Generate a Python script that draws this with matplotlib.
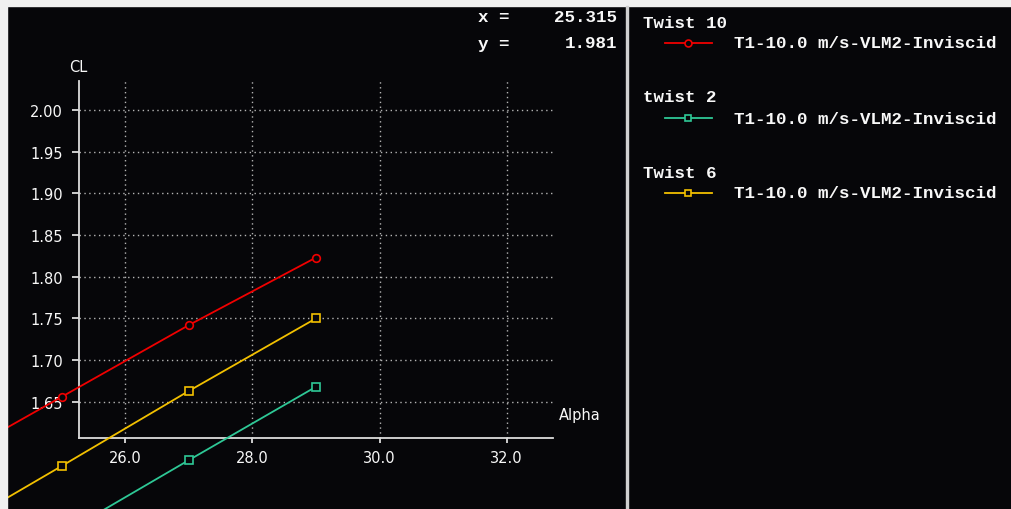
import numpy as np
import matplotlib as mpl
mpl.use('Agg')
import matplotlib.pyplot as plt
from matplotlib.patches import Rectangle
from matplotlib.lines import Line2D

# polar data, CL vs alpha for three twist settings
alpha = [23.0, 25.0, 27.0, 29.0]
cl_twist10 = [1.570, 1.656, 1.742, 1.823]
cl_twist2 = [1.402, 1.491, 1.580, 1.668]
cl_twist6 = [1.484, 1.573, 1.663, 1.750]

set_names = ["Twist 10", "twist 2", "Twist 6"]
curve_name = "T1-10.0 m/s-VLM2-Inviscid"
x_ticks = [26.0, 28.0, 30.0, 32.0]
y_ticks = [1.65, 1.70, 1.75, 1.80, 1.85, 1.90, 1.95, 2.00]
cursor_x = 25.315
cursor_y = 1.981

BG = '#060609'
FG = '#f8f8f8'
colors = ['#f00000', '#2ec896', '#f2c000']
markers = ['o', 's', 's']
W, H = 1012.0, 510.0
MONO = ['Liberation Mono', 'DejaVu Sans Mono']


def fx(px):
    return px / W


def fy(py):
    return 1 - py / H


fig = plt.figure(figsize=(W / 100, H / 100), dpi=100, facecolor=BG)
ax = fig.add_axes([fx(79), fy(439), fx(553 - 79), (439 - 82) / H])
ax.set_facecolor(BG)
ax.set_xlim(25.27, 32.73)
ax.set_ylim(1.6065, 2.0348)

for sp in ['top', 'right']:
    ax.spines[sp].set_visible(False)
for sp in ['left', 'bottom']:
    ax.spines[sp].set_color('#dcdcdc')
    ax.spines[sp].set_linewidth(1.3)

ax.set_xticks(x_ticks)
ax.set_xticklabels(["%.1f" % v for v in x_ticks])
ax.set_yticks(y_ticks)
ax.set_yticklabels(["%.2f" % v for v in y_ticks])
ax.tick_params(axis='x', direction='out', length=3.6, width=1.3,
               color='#dcdcdc', labelcolor=FG, labelsize=10.5, pad=5)
ax.tick_params(axis='y', direction='out', length=5, width=1.3,
               color='#dcdcdc', labelcolor=FG, labelsize=10.5, pad=6.5)
ax.grid(True, color='#b4b4b4', linewidth=1.0, linestyle=(0, (1, 2.5)))

series = [cl_twist10, cl_twist2, cl_twist6]
for cl, c, m in zip(series, colors, markers):
    ax.plot(alpha, cl, color=c, linewidth=1.3, marker=m, markersize=5.5,
            markerfacecolor=BG, markeredgecolor=c, markeredgewidth=1.2,
            clip_on=False, zorder=3)

fig.text(fx(78), fy(68), "CL", color=FG, fontsize=10.5, ha='center',
         va='center')
fig.text(fx(580), fy(416), "Alpha", color=FG, fontsize=10.5, ha='center',
         va='center')

# cursor readout
fig.text(fx(478), fy(18), "x =", color=FG, fontsize=12.6, family=MONO,
         weight='bold', ha='left', va='center')
fig.text(fx(617), fy(18), "%.3f" % cursor_x, color=FG, fontsize=12.6,
         family=MONO, weight='bold', ha='right', va='center')
fig.text(fx(478), fy(44), "y =", color=FG, fontsize=12.6, family=MONO,
         weight='bold', ha='left', va='center')
fig.text(fx(617), fy(44), "%.3f" % cursor_y, color=FG, fontsize=12.6,
         family=MONO, weight='bold', ha='right', va='center')

# legend panel
for i, (name, c, m) in enumerate(zip(set_names, colors, markers)):
    y0 = 23 + 75 * i
    y1 = y0 + 21
    fig.text(fx(643), fy(y0), name, color=FG, fontsize=12.6, family=MONO,
             weight='bold', ha='left', va='center')
    fig.add_artist(Line2D([fx(665), fx(712)], [fy(y1), fy(y1)], color=c,
                          linewidth=1.3, transform=fig.transFigure))
    fig.add_artist(Line2D([fx(688)], [fy(y1)], color=c, marker=m,
                          markersize=5, markerfacecolor=BG,
                          markeredgecolor=c, markeredgewidth=1.2,
                          transform=fig.transFigure))
    fig.text(fx(734), fy(y1), curve_name, color=FG, fontsize=12.6,
             family=MONO, weight='bold', ha='left', va='center')

# window frame and splitter
fig.add_artist(Rectangle((0, fy(7)), 1, 7 / H, transform=fig.transFigure,
                         color='#f0f0f0', zorder=10))
fig.add_artist(Rectangle((0, 0), fx(7), 1, transform=fig.transFigure,
                         color='#f0f0f0', zorder=10))
fig.add_artist(Rectangle((fx(626), 0), fx(2), fy(7), transform=fig.transFigure,
                         color='#d0d0d0', zorder=10))

fig.savefig('out.png', dpi=100, facecolor=BG)
